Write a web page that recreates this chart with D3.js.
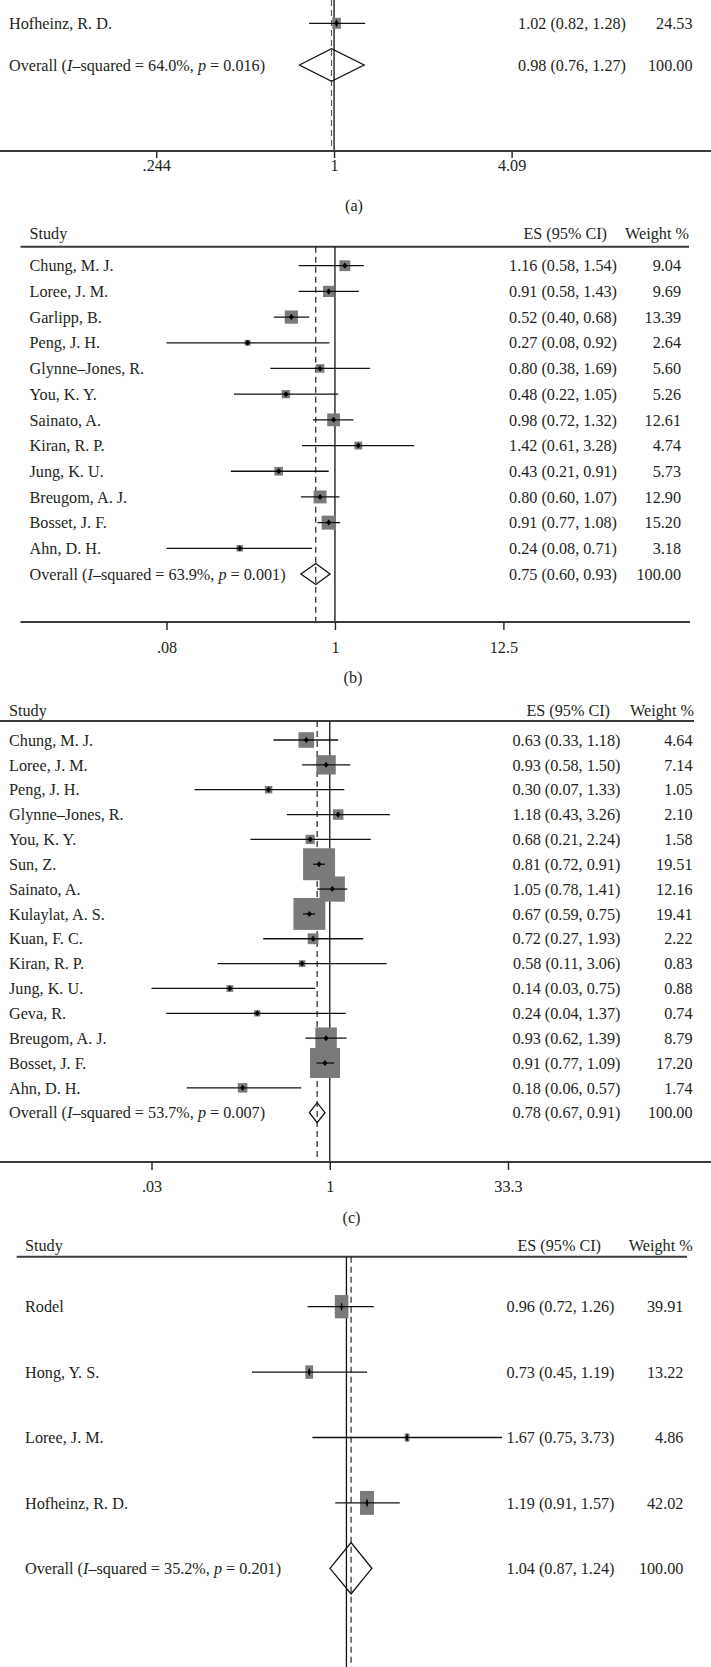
<!DOCTYPE html>
<html><head><meta charset="utf-8">
<script src="https://cdn.jsdelivr.net/npm/d3@7"></script>
<style>
body{margin:0;background:#fff}
text{font-family:"Liberation Serif","Times New Roman",serif;font-size:16.2px;fill:#231f20}
</style>
</head><body>
<svg id="chart" width="711" height="1667"></svg>
<script>
// ---------- DATA ----------
// Panel (a) (only the last study is visible)
const studiesA = ["Hofheinz, R. D."];
const esA = [1.02], loA = [0.82], hiA = [1.28], wA = [24.53];
const overallA = {es: 0.98, lo: 0.76, hi: 1.27, i2: "64.0", p: "0.016"};
const tickValsA = [0.244, 1, 4.09], tickLabelsA = [".244", "1", "4.09"];

// Panel (b)
const studiesB = ["Chung, M. J.", "Loree, J. M.", "Garlipp, B.", "Peng, J. H.", "Glynne–Jones, R.", "You, K. Y.",
  "Sainato, A.", "Kiran, R. P.", "Jung, K. U.", "Breugom, A. J.", "Bosset, J. F.", "Ahn, D. H."];
const esB = [1.16, 0.91, 0.52, 0.27, 0.80, 0.48, 0.98, 1.42, 0.43, 0.80, 0.91, 0.24];
const loB = [0.58, 0.58, 0.40, 0.08, 0.38, 0.22, 0.72, 0.61, 0.21, 0.60, 0.77, 0.08];
const hiB = [1.54, 1.43, 0.68, 0.92, 1.69, 1.05, 1.32, 3.28, 0.91, 1.07, 1.08, 0.71];
const wB  = [9.04, 9.69, 13.39, 2.64, 5.60, 5.26, 12.61, 4.74, 5.73, 12.90, 15.20, 3.18];
const overallB = {es: 0.75, lo: 0.60, hi: 0.93, i2: "63.9", p: "0.001"};
const tickValsB = [0.08, 1, 12.5], tickLabelsB = [".08", "1", "12.5"];

// Panel (c)
const studiesC = ["Chung, M. J.", "Loree, J. M.", "Peng, J. H.", "Glynne–Jones, R.", "You, K. Y.", "Sun, Z.",
  "Sainato, A.", "Kulaylat, A. S.", "Kuan, F. C.", "Kiran, R. P.", "Jung, K. U.", "Geva, R.",
  "Breugom, A. J.", "Bosset, J. F.", "Ahn, D. H."];
const esC = [0.63, 0.93, 0.30, 1.18, 0.68, 0.81, 1.05, 0.67, 0.72, 0.58, 0.14, 0.24, 0.93, 0.91, 0.18];
const loC = [0.33, 0.58, 0.07, 0.43, 0.21, 0.72, 0.78, 0.59, 0.27, 0.11, 0.03, 0.04, 0.62, 0.77, 0.06];
const hiC = [1.18, 1.50, 1.33, 3.26, 2.24, 0.91, 1.41, 0.75, 1.93, 3.06, 0.75, 1.37, 1.39, 1.09, 0.57];
const wC  = [4.64, 7.14, 1.05, 2.10, 1.58, 19.51, 12.16, 19.41, 2.22, 0.83, 0.88, 0.74, 8.79, 17.20, 1.74];
const overallC = {es: 0.78, lo: 0.67, hi: 0.91, i2: "53.7", p: "0.007"};
const tickValsC = [0.03, 1, 33.3], tickLabelsC = [".03", "1", "33.3"];

// Panel (d)
const studiesD = ["Rodel", "Hong, Y. S.", "Loree, J. M.", "Hofheinz, R. D."];
const esD = [0.96, 0.73, 1.67, 1.19];
const loD = [0.72, 0.45, 0.75, 0.91];
const hiD = [1.26, 1.19, 3.73, 1.57];
const wD  = [39.91, 13.22, 4.86, 42.02];
const overallD = {es: 1.04, lo: 0.87, hi: 1.24, i2: "35.2", p: "0.201"};

// ---------- LAYOUT ----------
const panels = [
  {data: {studies: studiesA, es: esA, lo: loA, hi: hiA, w: wA, overall: overallA, ticks: tickValsA, tickLabels: tickLabelsA},
   header: null, rowRange: [23.3, 65], xDomain: [0.2445, 4.09], xRange: [156.5, 511.6],
   refTop: 0, refBottom: 151, dashColor: "#555",
   axis: {y: 151, x0: 0, x1: 711, tick: 7, pad: 1.5}, label: {t: "(a)", x: 354, y: 205},
   nameX: 9, esX: 626, wX: 692.5, kw: 1.74, kh: 2.22, dh: 16.3, mw: 2, mh: 4},
  {data: {studies: studiesB, es: esB, lo: loB, hi: hiB, w: wB, overall: overallB, ticks: tickValsB, tickLabels: tickLabelsB},
   header: {y: 233, lineY: 246.7, x0: 20.5, x1: 689, studyX: 29.5, esX: 607, wX: 689},
   rowRange: [265.7, 574], xDomain: [0.08, 12.5], xRange: [166.5, 503.4],
   refTop: 246.7, refBottom: 622, dashColor: "#111",
   axis: {y: 622, x0: 20.5, x1: 690, tick: 8, pad: 11}, label: {t: "(b)", x: 353, y: 677},
   nameX: 29.5, esX: 617, wX: 681, kw: 3.6, kh: 3.6, dh: 10.5, mw: 2.5, mh: 3},
  {data: {studies: studiesC, es: esC, lo: loC, hi: hiC, w: wC, overall: overallC, ticks: tickValsC, tickLabels: tickLabelsC},
   header: {y: 710, lineY: 721, x0: 0, x1: 694, studyX: 9, esX: 610, wX: 694},
   rowRange: [740, 1112.7], xDomain: [0.03, 33.3], xRange: [151.5, 508],
   refTop: 721, refBottom: 1162, dashColor: "#111",
   axis: {y: 1162, x0: 0, x1: 711, tick: 8, pad: 10}, label: {t: "(c)", x: 351.5, y: 1217},
   nameX: 9, esX: 620.4, wX: 692.5, kw: 7.24, kh: 7.24, dh: 10, mw: 2.5, mh: 3},
  {data: {studies: studiesD, es: esD, lo: loD, hi: hiD, w: wD, overall: overallD, ticks: null, tickLabels: null},
   header: {y: 1245, lineY: 1256.7, x0: 16.7, x1: 687, studyX: 25, esX: 601, wX: 692.7},
   rowRange: [1306.7, 1568.3], xDomain: [0.45, 3.73], xRange: [252, 502.1],
   refTop: 1256.7, refBottom: 1667, dashColor: "#111",
   axis: null, label: null,
   nameX: 25, esX: 614.5, wX: 683.4, kw: 2.15, kh: 3.69, dh: 25.7, mw: 1.5, mh: 4.5}
];

const svg = d3.select("#chart");
const f2 = d3.format(".2f");

panels.forEach(P => {
  const D = P.data;
  const g = svg.append("g");
  const n = D.studies.length;
  const y = d3.scalePoint().domain(d3.range(n + 1)).range(P.rowRange);
  const x = d3.scaleLog().domain(P.xDomain).range(P.xRange);
  const rows = D.studies.map((s, i) => ({name: s, es: D.es[i], lo: D.lo[i], hi: D.hi[i], w: D.w[i], i}));

  // header
  if (P.header) {
    const H = P.header;
    g.append("text").attr("x", H.studyX).attr("y", H.y).attr("dy", "0.35em").text("Study");
    g.append("text").attr("x", H.esX).attr("y", H.y).attr("dy", "0.35em").attr("text-anchor", "end").text("ES (95% CI)");
    g.append("text").attr("x", H.wX).attr("y", H.y).attr("dy", "0.35em").attr("text-anchor", "end").text("Weight %");
    g.append("line").attr("x1", H.x0).attr("x2", H.x1).attr("y1", H.lineY).attr("y2", H.lineY)
      .attr("stroke", "#3a3a3a").attr("stroke-width", 2);
  }

  // reference lines
  g.append("line").attr("x1", x(1)).attr("x2", x(1)).attr("y1", P.refTop).attr("y2", P.refBottom)
    .attr("stroke", "#111").attr("stroke-width", 1.3);
  g.append("line").attr("x1", x(D.overall.es)).attr("x2", x(D.overall.es)).attr("y1", P.refTop).attr("y2", P.refBottom)
    .attr("stroke", P.dashColor).attr("stroke-width", 1.1).attr("stroke-dasharray", "6,4");

  // boxes
  g.selectAll("rect.box").data(rows).join("rect").attr("class", "box")
    .attr("x", d => x(d.es) - P.kw * Math.sqrt(d.w) / 2)
    .attr("y", d => y(d.i) - P.kh * Math.sqrt(d.w) / 2)
    .attr("width", d => P.kw * Math.sqrt(d.w))
    .attr("height", d => P.kh * Math.sqrt(d.w))
    .attr("fill", "#7a7a7a");

  // CI lines
  g.selectAll("line.ci").data(rows).join("line").attr("class", "ci")
    .attr("x1", d => x(d.lo)).attr("x2", d => x(d.hi))
    .attr("y1", d => y(d.i)).attr("y2", d => y(d.i))
    .attr("stroke", "#111").attr("stroke-width", 1.3);

  // point markers
  g.selectAll("path.mk").data(rows).join("path").attr("class", "mk")
    .attr("d", d => {
      const cx = x(d.es), cy = y(d.i);
      return `M${cx - P.mw},${cy}L${cx},${cy - P.mh}L${cx + P.mw},${cy}L${cx},${cy + P.mh}Z`;
    })
    .attr("fill", "#000");

  // overall diamond
  const o = D.overall, oy = y(n);
  g.append("path")
    .attr("d", `M${x(o.lo)},${oy}L${x(o.es)},${oy - P.dh}L${x(o.hi)},${oy}L${x(o.es)},${oy + P.dh}Z`)
    .attr("fill", "none").attr("stroke", "#111").attr("stroke-width", 1.3);

  // texts
  g.selectAll("text.nm").data(rows).join("text").attr("class", "nm")
    .attr("x", P.nameX).attr("y", d => y(d.i)).attr("dy", "0.35em").text(d => d.name);
  g.selectAll("text.es").data(rows).join("text").attr("class", "es")
    .attr("x", P.esX).attr("y", d => y(d.i)).attr("dy", "0.35em").attr("text-anchor", "end")
    .text(d => `${f2(d.es)} (${f2(d.lo)}, ${f2(d.hi)})`);
  g.selectAll("text.wt").data(rows).join("text").attr("class", "wt")
    .attr("x", P.wX).attr("y", d => y(d.i)).attr("dy", "0.35em").attr("text-anchor", "end")
    .text(d => f2(d.w));

  const ot = g.append("text").attr("x", P.nameX).attr("y", oy).attr("dy", "0.35em");
  ot.append("tspan").text("Overall (");
  ot.append("tspan").attr("font-style", "italic").text("I");
  ot.append("tspan").text(`–squared = ${o.i2}%, `);
  ot.append("tspan").attr("font-style", "italic").text("p");
  ot.append("tspan").text(` = ${o.p})`);
  g.append("text").attr("x", P.esX).attr("y", oy).attr("dy", "0.35em").attr("text-anchor", "end")
    .text(`${f2(o.es)} (${f2(o.lo)}, ${f2(o.hi)})`);
  g.append("text").attr("x", P.wX).attr("y", oy).attr("dy", "0.35em").attr("text-anchor", "end").text("100.00");

  // axis
  if (P.axis) {
    const A = P.axis;
    g.append("line").attr("x1", A.x0).attr("x2", A.x1).attr("y1", A.y).attr("y2", A.y)
      .attr("stroke", "#3a3a3a").attr("stroke-width", 2);
    const ax = d3.axisBottom(x).tickValues(D.ticks)
      .tickFormat((d, i) => D.tickLabels[i]).tickSize(A.tick).tickSizeOuter(0).tickPadding(A.pad);
    const ag = g.append("g").attr("transform", `translate(0,${A.y})`).call(ax);
    ag.select(".domain").remove();
    ag.selectAll(".tick line").attr("stroke", "#222").attr("stroke-width", 1.4);
    ag.selectAll(".tick text").style("fill", "#231f20");
    ag.attr("font-family", null).attr("font-size", null);
  }
  if (P.label) {
    g.append("text").attr("x", P.label.x).attr("y", P.label.y).attr("dy", "0.35em")
      .attr("text-anchor", "middle").text(P.label.t);
  }
});
</script>
</body></html>
